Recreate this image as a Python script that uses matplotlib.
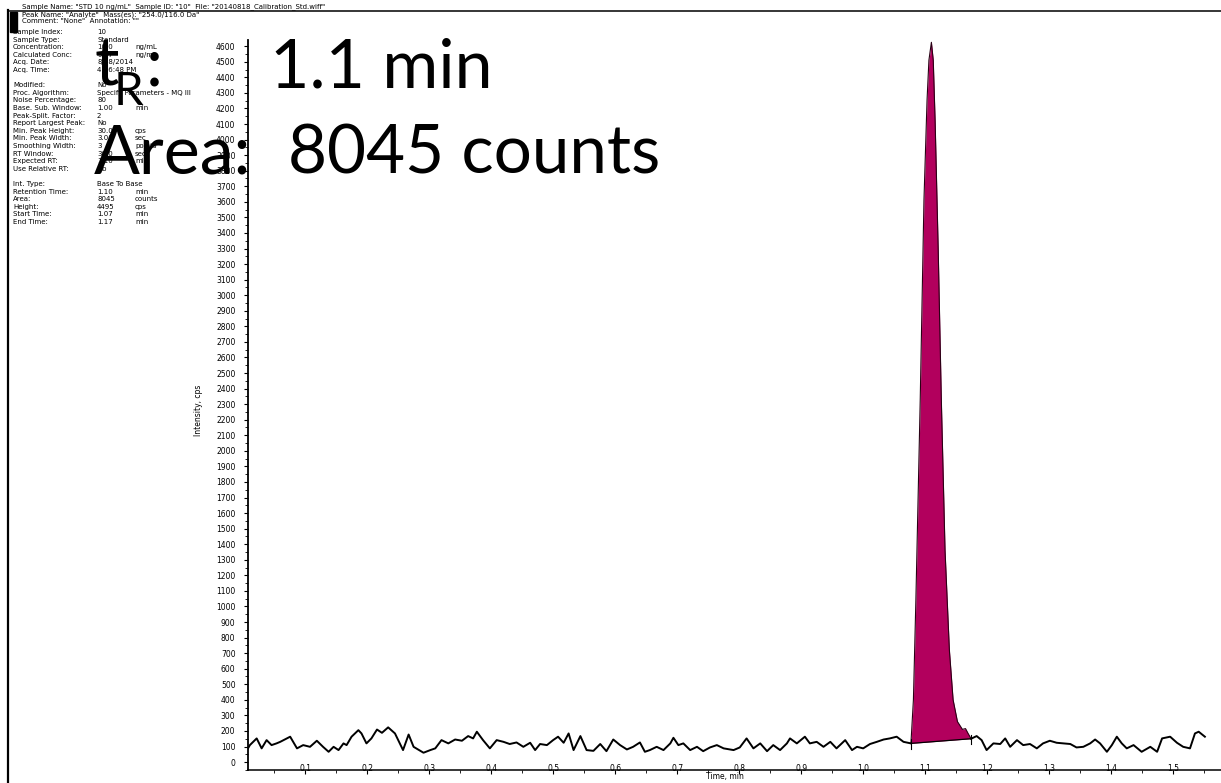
import matplotlib
matplotlib.use("Agg")
import matplotlib.pyplot as plt
import numpy as np
from matplotlib.lines import Line2D
from matplotlib.patches import Rectangle
from matplotlib.ticker import MultipleLocator

# ---------------- data ----------------
# baseline trace before the peak (time in min, intensity in cps)
time_pre = [0.008, 0.011, 0.022, 0.030, 0.038, 0.046, 0.054, 0.060, 0.076, 0.087,
            0.097, 0.108, 0.119, 0.129, 0.138, 0.146, 0.154, 0.162, 0.167, 0.175,
            0.186, 0.191, 0.199, 0.207, 0.216, 0.224, 0.234, 0.245, 0.258, 0.267,
            0.275, 0.291, 0.302, 0.310, 0.320, 0.331, 0.342, 0.353, 0.363, 0.371,
            0.377, 0.387, 0.398, 0.409, 0.420, 0.430, 0.441, 0.452, 0.463, 0.471,
            0.479, 0.490, 0.500, 0.508, 0.517, 0.525, 0.533, 0.544, 0.554, 0.565,
            0.576, 0.586, 0.597, 0.608, 0.619, 0.629, 0.640, 0.648, 0.656, 0.667,
            0.678, 0.689, 0.694, 0.702, 0.710, 0.721, 0.732, 0.742, 0.753, 0.764,
            0.775, 0.791, 0.801, 0.812, 0.823, 0.834, 0.845, 0.855, 0.866, 0.877,
            0.882, 0.893, 0.906, 0.914, 0.925, 0.936, 0.947, 0.957, 0.971, 0.982,
            0.990, 1.000, 1.011, 1.022, 1.033, 1.043, 1.054, 1.065]
intensity_pre = [88, 109, 152, 88, 141, 109, 120, 130, 163, 88,
                 109, 98, 137, 98, 66, 98, 77, 120, 109, 163,
                 205, 184, 120, 152, 209, 188, 223, 184, 77, 177,
                 98, 60, 77, 88, 141, 120, 145, 137, 167, 152,
                 195, 141, 88, 141, 130, 116, 126, 98, 124, 77,
                 116, 109, 141, 163, 124, 184, 77, 167, 77, 72,
                 116, 70, 145, 109, 81, 98, 126, 66, 77, 98,
                 77, 120, 156, 109, 120, 77, 98, 70, 94, 109,
                 88, 77, 94, 152, 88, 120, 70, 109, 77, 120,
                 152, 120, 163, 120, 130, 98, 130, 88, 141, 77,
                 98, 88, 116, 130, 145, 152, 163, 130]

# integrated peak (apex is built from the reported height above the baseline)
HEIGHT = 4495
time_peak = [1.077, 1.081, 1.085, 1.092, 1.098, 1.103, 1.106, 1.110, 1.113, 1.116,
             1.121, 1.126, 1.132, 1.139, 1.145, 1.152, 1.160, 1.165, 1.169, 1.174]
intensity_peak = [120, 400, 1045, 2330, 3610, 4255, 4510, None, 4510, 4120,
                  3290, 2330, 1360, 720, 400, 260, 210, 215, 185, 150]

# baseline trace after the peak
time_post = [1.183, 1.191, 1.199, 1.210, 1.221, 1.229, 1.237, 1.248, 1.258, 1.269,
             1.280, 1.290, 1.301, 1.312, 1.323, 1.334, 1.344, 1.355, 1.366, 1.374,
             1.382, 1.393, 1.401, 1.409, 1.417, 1.425, 1.436, 1.449, 1.463, 1.474,
             1.482, 1.495, 1.506, 1.516, 1.527, 1.535, 1.541, 1.551]
intensity_post = [167, 141, 77, 120, 116, 152, 98, 141, 109, 116,
                  88, 120, 137, 124, 120, 116, 94, 98, 120, 145,
                  120, 66, 109, 163, 120, 88, 109, 66, 98, 66,
                  152, 163, 124, 98, 88, 184, 195, 163]

x_ticks = [0.1, 0.2, 0.3, 0.4, 0.5, 0.6, 0.7, 0.8, 0.9, 1.0, 1.1, 1.2, 1.3, 1.4, 1.5]
y_ticks = list(range(0, 4601, 100))

retention_time = "1.1 min"
area_counts = 8045

header_lines = [
    'Sample Name: "STD 10 ng/mL"  Sample ID: "10"  File: "20140818_Calibration_Std.wiff"',
    'Peak Name: "Analyte"  Mass(es): "254.0/116.0 Da"',
    'Comment: "None"  Annotation: ""',
]
param_rows = [
    ("Sample Index:", "10", ""),
    ("Sample Type:", "Standard", ""),
    ("Concentration:", "10.0", "ng/mL"),
    ("Calculated Conc:", "9.87", "ng/mL"),
    ("Acq. Date:", "8/18/2014", ""),
    ("Acq. Time:", "4:36:48 PM", ""),
    None,
    ("Modified:", "No", ""),
    ("Proc. Algorithm:", "Specify Parameters - MQ III", ""),
    ("Noise Percentage:", "80", ""),
    ("Base. Sub. Window:", "1.00", "min"),
    ("Peak-Split. Factor:", "2", ""),
    ("Report Largest Peak:", "No", ""),
    ("Min. Peak Height:", "30.00", "cps"),
    ("Min. Peak Width:", "3.00", "sec"),
    ("Smoothing Width:", "3", "points"),
    ("RT Window:", "30.0", "sec"),
    ("Expected RT:", "1.10", "min"),
    ("Use Relative RT:", "No", ""),
    None,
    ("Int. Type:", "Base To Base", ""),
    ("Retention Time:", "1.10", "min"),
    ("Area:", f"{area_counts}", "counts"),
    ("Height:", f"{HEIGHT}", "cps"),
    ("Start Time:", "1.07", "min"),
    ("End Time:", "1.17", "min"),
]

# ---------------- figure ----------------
W, H = 1221, 783
fig = plt.figure(figsize=(W / 100, H / 100), dpi=100)
fig.patch.set_facecolor("white")


def fx(x):
    return x / W


def fy(y):
    return 1 - y / H


ax = fig.add_axes([fx(248), fy(770), fx(1221) - fx(248), fy(40) - fy(770)])
ax.set_xlim(0.008, 1.577)
ax.set_ylim(-51, 4640)
for s in ("top", "right"):
    ax.spines[s].set_visible(False)
ax.spines["left"].set_linewidth(1.3)
ax.spines["bottom"].set_linewidth(1.1)

ax.set_xticks(x_ticks)
ax.set_xticklabels([f"{v:.1f}" for v in x_ticks])
ax.xaxis.set_minor_locator(MultipleLocator(0.05))
ax.set_yticks(y_ticks)
ax.set_yticklabels([str(v) for v in y_ticks])
ax.yaxis.set_minor_locator(MultipleLocator(50))
ax.tick_params(axis="both", which="major", labelsize=5.5, length=3, width=0.8,
               direction="out", colors="black")
ax.tick_params(axis="both", which="minor", length=2, width=0.6, direction="out")
ax.tick_params(axis="y", pad=6)
ax.tick_params(axis="x", pad=-7)

ax.set_xlabel("Time, min", fontsize=5.5, labelpad=0)
ax.xaxis.set_label_coords(0.49, -0.003)
ax.set_ylabel("Intensity, cps", fontsize=5.5)
ax.yaxis.set_label_coords(-0.046, 0.493)

# peak baseline (base-to-base) and apex
t_pk = np.array(time_peak)
base_pk = np.interp(t_pk, [time_peak[0], time_peak[-1]],
                    [intensity_peak[0], intensity_peak[-1]])
i_pk = np.array([v if v is not None else np.nan for v in intensity_peak], dtype=float)
apex = int(np.where(np.isnan(i_pk))[0][0])
i_pk[apex] = base_pk[apex] + HEIGHT

ax.fill_between(t_pk, i_pk, base_pk, color="#B2005D", linewidth=0, zorder=2)
ax.plot(t_pk, i_pk, color="#2a0015", lw=0.8, zorder=3)
ax.plot([t_pk[0], t_pk[-1]], [base_pk[0], base_pk[-1]], color="black", lw=0.9, zorder=3)

# trace outside the integrated region
ax.plot(list(time_pre) + [time_peak[0]], list(intensity_pre) + [intensity_peak[0]],
        color="black", lw=1.4, zorder=4)
ax.plot([time_peak[-1]] + list(time_post), [intensity_peak[-1]] + list(intensity_post),
        color="black", lw=1.4, zorder=4)

# start / end markers
for t0, b0 in ((t_pk[0], base_pk[0]), (t_pk[-1], base_pk[-1])):
    ax.plot([t0, t0], [b0 - 35, b0 + 25], color="black", lw=0.8, zorder=4)

# ---------------- page frame ----------------
fig.add_artist(Line2D([fx(8), fx(8)], [fy(10), fy(783)], color="black", lw=1.6,
                      transform=fig.transFigure))
fig.add_artist(Line2D([fx(8), 1.0], [fy(11), fy(11)], color="black", lw=1.1,
                      transform=fig.transFigure))
fig.add_artist(Rectangle((fx(10), fy(32)), fx(7), fy(12) - fy(32), color="black",
                         transform=fig.transFigure))

# ---------------- report text ----------------
small = dict(fontsize=5, family="DejaVu Sans", va="baseline", color="black")
fig.text(fx(22), fy(8), header_lines[0], **small)
fig.text(fx(22), fy(16), header_lines[1], **small)
fig.text(fx(22), fy(23), header_lines[2], **small)

y = 34
for row in param_rows:
    if row is None:
        y += 7.6
        continue
    label, value, unit = row
    fig.text(fx(13), fy(y), label, **small)
    fig.text(fx(97), fy(y), value, **small)
    if unit:
        fig.text(fx(135), fy(y), unit, **small)
    y += 7.6

# ---------------- large annotations ----------------
big = dict(family="Lato", color="black", va="baseline")
fig.text(fx(95), fy(86), "t", fontsize=49, **big)
fig.text(fx(114), fy(105), "R", fontsize=34, **big)
fig.text(fx(146), fy(86), ":", fontsize=49, **big)
fig.text(fx(270), fy(87), retention_time, fontsize=49, **big)
fig.text(fx(94), fy(174), "Area:", fontsize=49, **big)
fig.text(fx(288), fy(174), f"{area_counts} counts", fontsize=48.5, **big)

fig.savefig("out.png", dpi=100, facecolor="white")
